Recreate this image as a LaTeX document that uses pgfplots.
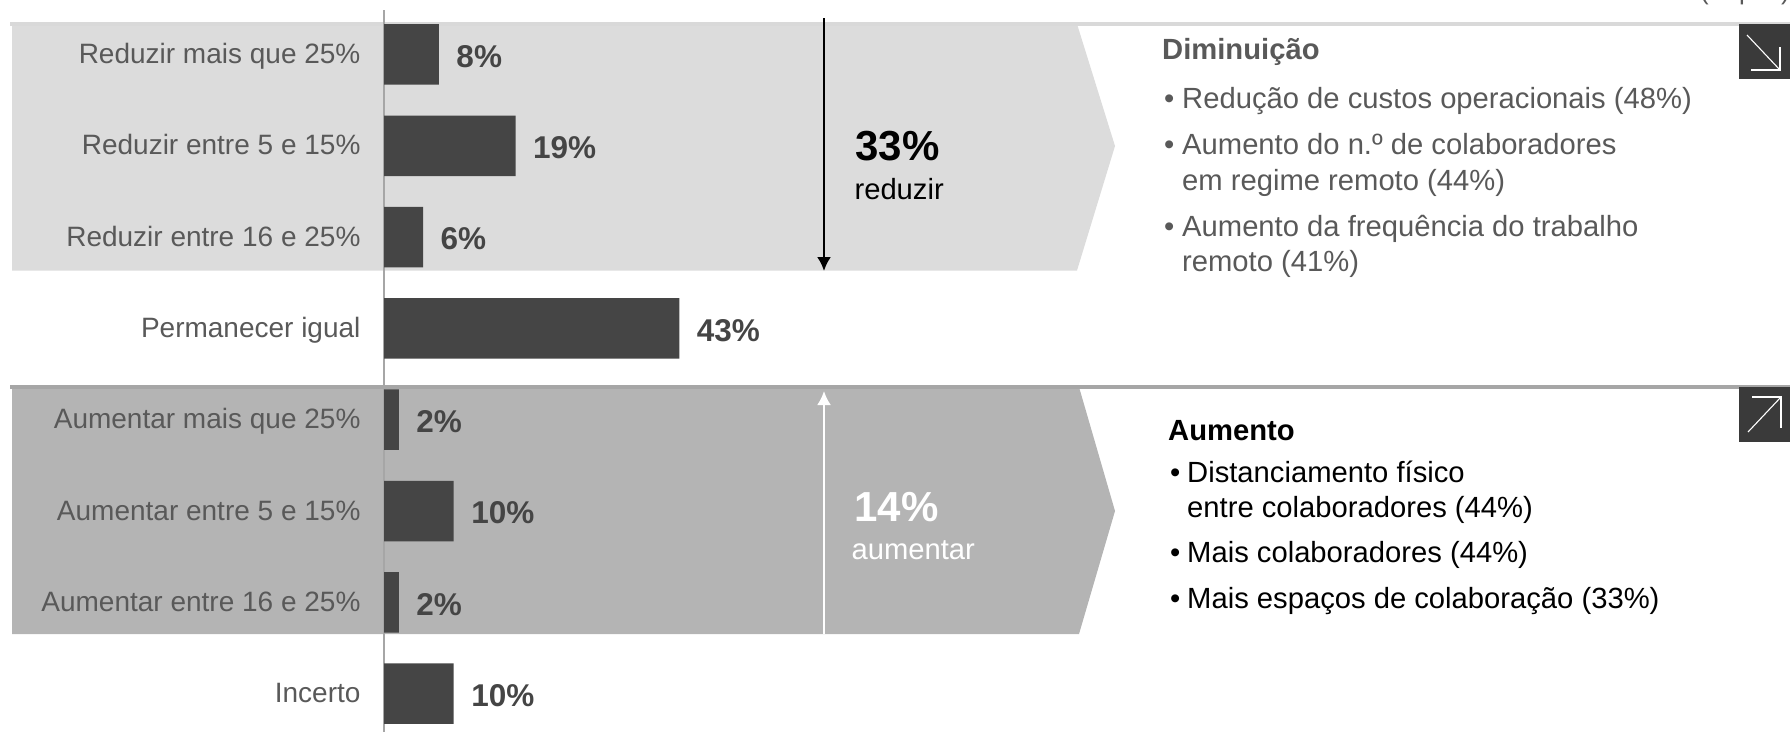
\documentclass[border=0pt]{standalone}
\usepackage{pgfplots}
\pgfplotsset{compat=1.18}
\usetikzlibrary{arrows.meta}
\usepackage{fontspec}
\setmainfont{Liberation Sans}
\definecolor{barc}{HTML}{454545}
\definecolor{lab}{HTML}{595959}
\definecolor{lighta}{HTML}{DCDCDC}
\definecolor{darka}{HTML}{B4B4B4}
\definecolor{ruleA}{HTML}{D9D9D9}
\definecolor{ruleB}{HTML}{A6A6A6}
\definecolor{icon}{HTML}{3A3A3A}
\newcommand{\fs}[1]{\fontsize{#1}{#1}\selectfont}
\begin{document}
\begin{tikzpicture}
\useasboundingbox (0pt,0pt) rectangle (1790pt,-732pt);
\clip (0pt,0pt) rectangle (1790pt,-732pt);
\begin{scope}[x=1pt,y=-1pt]
% bands
\fill[lighta] (12,24) -- (1077,24) -- (1115,146) -- (1077,270.5) -- (12,270.5) -- cycle;
\fill[darka] (12,387) -- (1079,387) -- (1115,511) -- (1079,634) -- (12,634) -- cycle;
\draw[ruleA,line width=3.5pt] (10,24) -- (1790,24);
\draw[ruleB,line width=3.5pt] (10,387) -- (1790,387);
\end{scope}
\begin{axis}[
  at={(384pt,-732pt)}, anchor=south west,
  scale only axis, width=1406pt, height=722pt,
  xmin=0, xmax=204.66, ymin=-0.487, ymax=7.42, y dir=reverse,
  axis x line=none, axis y line=left, axis line style={draw=ruleB,line width=1.5pt,-},
  ytick={0,...,7}, major tick length=0pt,
  yticklabels={Reduzir mais que 25\%,Reduzir entre 5 e 15\%,Reduzir entre 16 e 25\%,Permanecer igual,Aumentar mais que 25\%,Aumentar entre 5 e 15\%,Aumentar entre 16 e 25\%,Incerto},
  yticklabel style={font=\fs{28}, text=lab, anchor=east, xshift=-20pt, text height=24pt, text depth=6pt},
  clip=false,
]
\addplot[xbar, bar width=60.5pt, fill=barc, draw=none,
  nodes near coords={\pgfmathprintnumber[assume math mode=true]{\pgfplotspointmeta}\%},
  point meta=explicit,
  every node near coord/.append style={font=\fs{31.5}\bfseries, text=barc, anchor=west, xshift=14pt, yshift=-2pt}]
  coordinates {(8,0) [8] (19.15,1) [19] (5.7,2) [6] (43,3) [43] (2.15,4) [2] (10.15,5) [10] (2.15,6) [2] (10.15,7) [10]};
\end{axis}
\begin{scope}[x=1pt,y=-1pt]
% arrows
\draw[black,line width=2.2pt,-{Latex[length=14pt,width=14pt]}] (824,18) -- (824,271);
\draw[white,line width=2.2pt,-{Latex[length=14pt,width=14pt]}] (824,634) -- (824,391);
\node[anchor=west,font=\fs{42}\bfseries,text=black] at (852,146) {33\%};
\node[anchor=west,font=\fs{29.2},text=black] at (851,189) {reduzir};
\node[anchor=west,font=\fs{42}\bfseries,text=white] at (851,507) {14\%};
\node[anchor=west,font=\fs{29.2},text=white] at (848,550) {aumentar};
% right text
\begin{scope}[every node/.style={anchor=base west,inner sep=0pt,font=\fs{29.2},text=lab}]
\node[font=\fs{29.2}\bfseries] at (1162,59) {Diminuição};
\node at (1164,108) {•}; \node at (1182,108) {Redução de custos operacionais (48\%)};
\node at (1164,154) {•}; \node at (1182,154) {Aumento do n.º de colaboradores};
\node at (1182,190) {em regime remoto (44\%)};
\node at (1164,236) {•}; \node at (1182,236) {Aumento da frequência do trabalho};
\node at (1182,271) {remoto (41\%)};
\end{scope}
\begin{scope}[every node/.style={anchor=base west,inner sep=0pt,font=\fs{29.2},text=black}]
\node[font=\fs{29.2}\bfseries] at (1168,440) {Aumento};
\node at (1170,482) {•}; \node at (1187,482) {Distanciamento físico};
\node at (1187,517) {entre colaboradores (44\%)};
\node at (1170,562) {•}; \node at (1187,562) {Mais colaboradores (44\%)};
\node at (1170,608) {•}; \node at (1187,608) {Mais espaços de colaboração (33\%)};
\end{scope}
\node[anchor=base west,inner sep=0pt,font=\fs{26},text=lab] at (1700,-1) {(\% pts.)};
% icons
\fill[icon] (1739,24) rectangle (1790,79);
\fill[icon] (1739,387) rectangle (1790,442);
\draw[white,line width=1.1pt] (1747,35) -- (1780,70);
\draw[white,line width=1.1pt] (1751,70) -- (1780,70) -- (1780,47);
\draw[white,line width=1.1pt] (1748,432) -- (1781,397);
\draw[white,line width=1.1pt] (1752,397) -- (1781,397) -- (1781,428);
\end{scope}
\end{tikzpicture}
\end{document}
